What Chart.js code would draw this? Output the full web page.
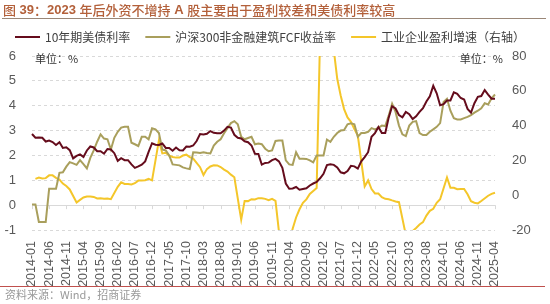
<!DOCTYPE html>
<html>
<head>
<meta charset="UTF-8">
<title>2023年后外资不增持A股</title>
<script src="https://cdn.jsdelivr.net/npm/chart.js@4.4.0/dist/chart.umd.min.js"></script>
<style>
body { margin: 0; background: #fff; }
#wrap { position: relative; width: 550px; height: 304px; }
</style>
</head>
<body>
<div id="wrap"><canvas id="c" width="550" height="304"></canvas></div>
<script>
// 月份 2014-01 ~ 2025-04
var months = [];
for (var yy = 2014; yy <= 2025; yy++) {
    for (var mm = 1; mm <= 12; mm++) {
        if (yy == 2025 && mm > 4) break;
        months.push(yy + "-" + (mm < 10 ? "0" : "") + mm);
    }
}

// 10年期美债利率 (%)
var ust10y = [
    2.86, 2.71, 2.72, 2.71, 2.56, 2.60, 2.54, 2.42, 2.53, 2.30, 2.33, 2.21,
    1.88, 1.98, 2.04, 1.94, 2.20, 2.36, 2.32, 2.17, 2.17, 2.07, 2.26, 2.24,
    2.09, 1.78, 1.89, 1.81, 1.81, 1.64, 1.50, 1.56, 1.63, 1.76, 2.14, 2.49,
    2.43, 2.42, 2.48, 2.30, 2.30, 2.19, 2.32, 2.21, 2.20, 2.36, 2.35, 2.40,
    2.58, 2.86, 2.84, 2.87, 2.98, 2.91, 2.89, 2.89, 3.00, 3.15, 3.12, 2.83,
    2.71, 2.68, 2.57, 2.53, 2.40, 2.07, 2.06, 1.63, 1.70, 1.71, 1.81, 1.86,
    1.76, 1.50, 0.87, 0.66, 0.67, 0.73, 0.62, 0.65, 0.68, 0.79, 0.87, 0.93,
    1.08, 1.26, 1.61, 1.64, 1.62, 1.52, 1.32, 1.28, 1.37, 1.58, 1.56, 1.47,
    1.76, 1.93, 2.13, 2.75, 2.90, 3.14, 2.90, 2.90, 3.52, 3.98, 3.89, 3.62,
    3.53, 3.75, 3.66, 3.46, 3.57, 3.75, 3.90, 4.17, 4.38, 4.80, 4.50, 4.02,
    4.06, 4.21, 4.21, 4.54, 4.48, 4.31, 4.25, 3.87, 3.72, 4.10, 4.36, 4.39,
    4.63, 4.45, 4.28, 4.28
];

// 沪深300非金融建筑FCF收益率 (%)
var fcfYield = [
    0.03, 0.03, -0.68, -0.68, -0.68, 0.66, 0.66, 0.66, 1.30, 1.32, 1.55, 1.73,
    1.68, 1.62, 1.81, 1.65, 1.48, 1.90, 2.20, 2.55, 2.85, 2.68, 2.65, 2.24,
    2.71, 2.95, 3.12, 3.15, 3.15, 2.51, 2.45, 2.38, 2.75, 2.75, 2.65, 3.09,
    3.05, 2.90, 2.24, 2.20, 2.00, 1.64, 1.62, 1.60, 1.52, 1.48, 1.45, 2.13,
    2.12, 2.10, 2.13, 2.10, 2.08, 2.40, 2.55, 2.65, 2.89, 3.10, 3.30, 3.38,
    3.25, 2.75, 2.65, 2.70, 2.75, 2.45, 2.48, 2.45, 2.27, 2.17, 2.20, 2.58,
    2.60, 2.60, 1.80, 1.64, 1.62, 2.13, 1.87, 1.87, 1.86, 1.80, 1.72, 2.00,
    2.00, 2.00, 2.64, 2.55, 2.75, 2.90, 3.00, 3.02, 3.25, 3.29, 3.25, 2.75,
    2.90, 2.90, 2.95, 3.10, 3.05, 3.11, 3.20, 3.18, 3.60, 4.08, 3.75, 3.20,
    2.85, 2.78, 3.20, 3.35, 3.38, 2.90, 2.82, 2.82, 2.95, 3.05, 3.15, 3.30,
    4.15, 4.28, 3.80, 3.50, 3.45, 3.45, 3.50, 3.55, 3.62, 3.72, 3.80, 3.90,
    4.10, 4.05, 4.30, 4.45
];

// 工业企业盈利增速 累计同比 (%)，1月无数据
var profitGrowth = [
    null, 9.4, 10.1, 9.6, 9.8, 11.4, 11.4, 10.0, 9.0, 6.7, 5.3, 3.3,
    null, -4.2, -2.7, -1.3, -0.8, -0.7, -1.0, -1.9, -1.7, -2.0, -1.9, -2.3,
    null, 4.8, 7.4, 6.5, 6.4, 6.2, 6.9, 8.4, 8.4, 8.6, 9.4, 8.5,
    null, 31.5, 24.0, 24.4, 22.7, 22.0, 21.6, 21.6, 22.8, 23.3, 21.9, 21.0,
    null, 16.1, 11.6, 15.0, 16.5, 17.2, 17.1, 16.2, 14.7, 13.6, 11.8, 10.3,
    null, -14.0, -3.3, -3.4, -2.3, -2.4, -1.7, -1.7, -2.1, -2.9, -2.1, -3.3,
    null, -38.3, -36.7, -27.4, -19.3, -12.8, -8.1, -4.4, -2.4, 0.7, 2.4, 4.1,
    null, 178.9, 137.3, 106.0, 83.4, 66.9, 57.3, 49.5, 44.7, 42.2, 38.0, 34.3,
    null, 5.0, 8.5, 3.5, 1.0, 1.0, -1.1, -2.1, -2.3, -3.0, -3.6, -4.0,
    null, -22.9, -21.4, -20.6, -18.8, -16.8, -15.5, -11.7, -9.0, -7.8, -4.4, -2.3,
    null, 10.2, 4.3, 4.3, 3.4, 3.5, 3.6, 0.5, -3.5, -4.3, -4.7, -3.3,
    null, -0.3, 0.8, 1.4
];

var FONT = '"Liberation Sans", "Noto Sans CJK SC", sans-serif';
var CJK = '"Noto Sans CJK SC", "Liberation Sans", sans-serif';

// 标题：中文常规，数字和字母加粗
function drawTitle(ctx, text, x, y) {
    var parts = text.match(/[\u3000-\u9fff\uff00-\uffef]+|[^\u3000-\u9fff\uff00-\uffef]+/g);
    parts.forEach(function (p) {
        var isCjk = /[\u3000-\u9fff\uff00-\uffef]/.test(p);
        ctx.font = (isCjk ? "500 13px " + CJK : "bold 13px " + FONT);
        ctx.fillText(p, x, y);
        x += ctx.measureText(p).width;
    });
}

// 标题、图例、单位、资料来源
var decor = {
    id: "decor",
    beforeDatasetsDraw: function (chart) {
        var ctx = chart.ctx, a = chart.chartArea;
        var y0 = chart.scales.y.getPixelForValue(0);
        ctx.save();
        ctx.strokeStyle = "#d9d9d9";
        ctx.lineWidth = 1;
        ctx.beginPath();
        ctx.moveTo(a.left, Math.round(y0) + 0.5);
        ctx.lineTo(a.right, Math.round(y0) + 0.5);
        for (var i = 0; i < months.length; i += 5) {
            var x = Math.round(chart.scales.x.getPixelForValue(i)) + 0.5;
            ctx.moveTo(x, y0);
            ctx.lineTo(x, y0 + 4);
        }
        ctx.stroke();
        ctx.restore();
    },
    afterDraw: function (chart) {
        var ctx = chart.ctx;
        ctx.save();
        // title
        ctx.fillStyle = "#b3603a";
        ctx.textBaseline = "middle";
        drawTitle(ctx, "图 39：2023 年后外资不增持 A 股主要由于盈利较差和美债利率较高", 3, 10);
        ctx.strokeStyle = "#9a8778";
        ctx.lineWidth = 1;
        ctx.beginPath();
        ctx.moveTo(2, 18.5);
        ctx.lineTo(546, 18.5);
        ctx.stroke();

        // legend
        var x = 15;
        ctx.font = "12px " + CJK;
        chart.data.datasets.forEach(function (ds) {
            ctx.strokeStyle = ds.borderColor;
            ctx.lineWidth = 2;
            ctx.beginPath();
            ctx.moveTo(x, 37);
            ctx.lineTo(x + 25, 37);
            ctx.stroke();
            ctx.fillStyle = "#404040";
            ctx.fillText(ds.label, x + 30, 37);
            x += 30 + ctx.measureText(ds.label).width + 15;
        });

        // units
        ctx.font = "11px " + CJK;
        ctx.fillStyle = "#333";
        ctx.textAlign = "left";
        ctx.fillText("单位：%", 35, 59);
        ctx.textAlign = "right";
        ctx.fillText("单位：%", 503, 59);

        // source
        ctx.strokeStyle = "#c0504d";
        ctx.lineWidth = 1;
        ctx.beginPath();
        ctx.moveTo(0, 286.5);
        ctx.lineTo(545, 286.5);
        ctx.stroke();
        ctx.textAlign = "left";
        ctx.fillStyle = "#999999";
        ctx.font = "11px " + CJK;
        ctx.fillText("资料来源：Wind，招商证券", 5, 295);
        ctx.restore();
    }
};

Chart.defaults.font.family = FONT;

var chart = new Chart(document.getElementById("c").getContext("2d"), {
    type: "line",
    data: {
        labels: months,
        datasets: [
            { label: "10年期美债利率", data: ust10y, borderColor: "#650c1c", yAxisID: "y" },
            { label: "沪深300非金融建筑FCF收益率", data: fcfYield, borderColor: "#a99f5c", yAxisID: "y" },
            { label: "工业企业盈利增速（右轴）", data: profitGrowth, borderColor: "#f4c62a", yAxisID: "y1", spanGaps: true }
        ]
    },
    options: {
        responsive: false,
        animation: false,
        layout: { padding: { top: 56, left: 0, right: 0, bottom: 0 } },
        elements: {
            point: { radius: 0 },
            line: { borderWidth: 2, tension: 0, fill: false }
        },
        plugins: {
            legend: { display: false },
            tooltip: { enabled: false }
        },
        scales: {
            x: {
                grid: { display: false },
                border: { display: false },
                ticks: {
                    autoSkip: false,
                    maxRotation: 90,
                    minRotation: 90,
                    padding: 3,
                    color: "#595959",
                    font: { size: 12.5 },
                    callback: function (v, i) { return i % 5 == 0 ? months[i] : ""; }
                },
                afterFit: function (s) { s.height = 74; }
            },
            y: {
                position: "left",
                min: -1,
                max: 6,
                ticks: { stepSize: 1, padding: 16, color: "#595959", font: { size: 13 } },
                grid: { color: "#d9d9d9", drawTicks: false },
                border: { display: false, dash: [3, 3] },
                afterFit: function (s) { s.width = 32; }
            },
            y1: {
                position: "right",
                min: -20,
                max: 80,
                ticks: { stepSize: 10, padding: 17, color: "#595959", font: { size: 13 } },
                grid: { drawOnChartArea: false, drawTicks: false },
                border: { display: false },
                afterFit: function (s) { s.width = 55; }
            }
        }
    },
    plugins: [decor]
});
</script>
</body>
</html>
